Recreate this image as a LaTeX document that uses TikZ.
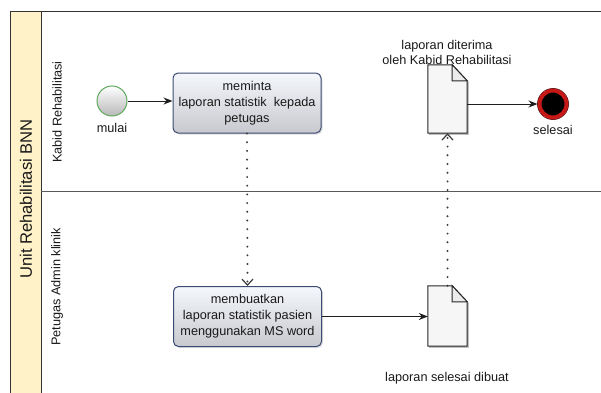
\documentclass[tikz,border=0pt]{standalone}
\usepackage{fontspec}
\setmainfont{Liberation Sans}
\usetikzlibrary{arrows.meta,shadows,shapes.geometric}
\definecolor{poolfill}{RGB}{255,242,200}
\definecolor{boxedge}{RGB}{60,75,115}
\definecolor{boxtop}{RGB}{244,247,252}
\definecolor{boxbot}{RGB}{200,201,206}
\definecolor{startedge}{RGB}{95,170,95}
\definecolor{endred}{RGB}{200,25,25}
\definecolor{docfill}{RGB}{246,246,246}
\definecolor{lineclr}{RGB}{30,30,30}
\definecolor{dotclr}{RGB}{60,60,60}
\tikzset{
  lbl/.style={font=\fontsize{12.7}{15.5}\selectfont, text=black!90, inner sep=0pt},
  taskbox/.style={draw=boxedge, line width=1pt, rounded corners=5pt,
    top color=boxtop, bottom color=boxbot, minimum width=148pt, minimum height=60pt,
    align=center, inner sep=0pt, font=\fontsize{12.7}{15.8}\selectfont, text=black!90,
    drop shadow={shadow xshift=1.5pt, shadow yshift=-1.5pt, opacity=0.25, fill=gray}},
  docanchor/.style={minimum width=39pt, inner sep=0pt, draw=none},
  docline/.style={draw=black!85, line width=1pt, fill=docfill, line join=miter},
  flow/.style={draw=lineclr, line width=1pt, -{Stealth[length=9pt,width=7pt]}},
  assoc/.style={draw=dotclr, line width=2.2pt, line cap=round,
    dash pattern=on 0pt off 8.7pt,
    -{Straight Barb[length=6pt,width=11pt,line width=1.2pt,line cap=butt]}},
}
\begin{document}
\begin{tikzpicture}[x=1pt,y=1pt]
\useasboundingbox (0,0) rectangle (601,392);
% pool
\fill[poolfill] (10,-2) rectangle (41,380);
\draw[black!80, line width=1pt] (603,380) -- (10,380) -- (10,-2);
\draw[black!80, line width=1pt] (41,380) -- (41,-2);
\draw[black!65, line width=1pt] (41,201) -- (603,201);
\node[lbl, rotate=90, font=\fontsize{16.6}{18}\selectfont] (pool) at (26,193) {Unit Rehabilitasi BNN};
\node[lbl, rotate=90] (lane1) at (57,280) {Kabid Rehabilitasi};
\node[lbl, rotate=90] (lane2) at (57,105) {Petugas Admin klinik};
% start
\node[circle, draw=startedge, line width=1pt, minimum size=30pt, inner sep=0pt,
  top color=white, bottom color=black!28] (start) at (112,291) {};
\node[lbl] (mulai) at (112,264) {mulai};
% tasks
\node[taskbox] (t1) at (247,289) {meminta\\laporan statistik\ \ kepada\\petugas};
\node[taskbox] (t2) at (247.5,75.5) {membuatkan\\laporan statistik pasien\\menggunakan MS word};
% documents
\node[docanchor, minimum height=68pt] (d2) at (447.5,293) {};
\node[docanchor, minimum height=60pt] (d1) at (447.5,76) {};
\foreach \d in {d1,d2}{
  \fill[black!25] ([shift={(1.5pt,-1.5pt)}]\d.south west) rectangle ([shift={(1.5pt,-17pt)}]\d.north east);
  \draw[docline] (\d.south west) -- (\d.north west) -- ([xshift=-15pt]\d.north east)
     -- ([yshift=-16pt]\d.north east) -- (\d.south east) -- cycle;
  \draw[docline, fill=black!8] ([xshift=-15pt]\d.north east) -- ([xshift=-15pt,yshift=-16pt]\d.north east)
     -- ([yshift=-16pt]\d.north east) -- cycle;
}
\node[lbl, align=center] (d2lbl) at (447,339.5) {laporan diterima\\oleh Kabid Rehabilitasi};
\node[lbl] (d1lbl) at (447,14) {laporan selesai dibuat};
% end
\node[circle, draw=endred, line width=4pt, fill=black, minimum size=27pt, inner sep=0pt] (end) at (553,288) {};
\draw[black!50!endred, line width=0.6pt] (end.center) circle (15.6pt);
\node[lbl] (selesai) at (553,262) {selesai};
% connectors
\draw[flow] (start) -- (t1.west |- start);
\draw[flow] (t2.east) -- (d1.west |- t2.east);
\draw[flow] (d2.east |- end.west) -- (end.west);
\draw[assoc] (t1.south) -- (t2.north);
\draw[assoc] (d1.north) -- (d2.south);
\end{tikzpicture}
\end{document}
